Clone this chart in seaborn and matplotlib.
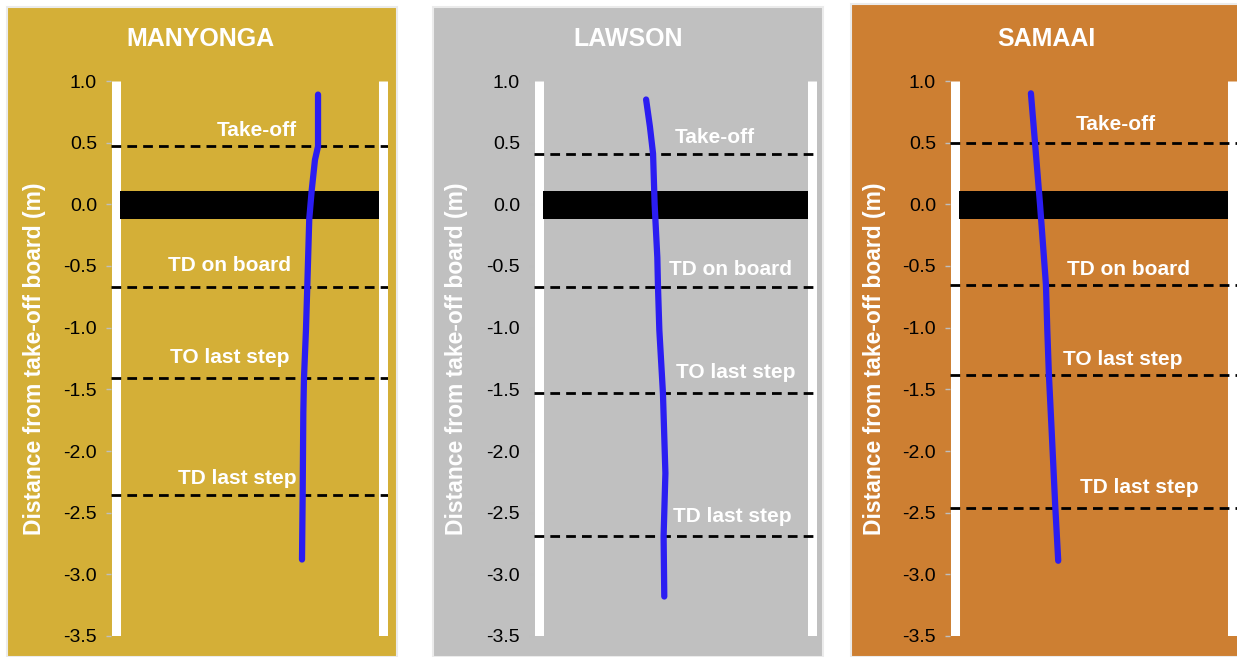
"""
Approach to the take-off board: lateral foot path of the three medallists
"""
import pandas as pd
import seaborn as sns
import numpy as np
import matplotlib.pyplot as plt
from matplotlib.patches import Rectangle

athletes = ['MANYONGA', 'LAWSON', 'SAMAAI']
panel_colors = ['#D4AF37', '#C0C0C0', '#CD7F32']

event_names = ['Take-off', 'TD on board', 'TO last step', 'TD last step']
manyonga_events = [0.47, -0.67, -1.41, -2.36]
lawson_events = [0.41, -0.67, -1.53, -2.69]
samaai_events = [0.50, -0.65, -1.38, -2.46]

# path: distance from board (m) vs lateral position (m)
manyonga_dist = [0.89, 0.47, 0.36, 0.11, -0.12, -0.67, -1.02, -1.41, -1.69, -2.36, -2.88]
manyonga_lat = [0.312, 0.312, 0.298, 0.283, 0.272, 0.263, 0.257, 0.248, 0.245, 0.242, 0.239]
lawson_dist = [0.85, 0.63, 0.41, 0.0, -0.43, -0.67, -1.02, -1.37, -1.53, -2.18, -2.69, -3.18]
lawson_lat = [-0.131, -0.114, -0.100, -0.093, -0.081, -0.078, -0.072, -0.061, -0.056, -0.045, -0.053, -0.050]
samaai_dist = [0.90, 0.50, 0.0, -0.65, -1.02, -1.38, -1.83, -2.45, -2.89]
samaai_lat = [-0.275, -0.257, -0.235, -0.209, -0.203, -0.196, -0.184, -0.168, -0.155]

runway_edge = 0.61
board_top, board_bottom = 0.11, -0.115

events = [manyonga_events, lawson_events, samaai_events]
paths = [(manyonga_lat, manyonga_dist), (lawson_lat, lawson_dist), (samaai_lat, samaai_dist)]

# layout (pixels) measured on the target
W, H = 1237, 657
panel_px = [(7, 397, 7), (433, 823, 7), (851, 1240, 4)]
axes_px = [(111, 277), (534, 283), (950, 287)]
title_x = [200, 628, 1046]
ylabel_x = [35, 457, 875]
label_x = [[0.034, -0.089, -0.089, -0.057],
           [0.176, 0.243, 0.270, 0.252],
           [0.099, 0.152, 0.130, 0.200]]
label_dy = [[0.13, 0.175, 0.17, 0.14],
            [0.13, 0.14, 0.17, 0.16],
            [0.145, 0.125, 0.12, 0.16]]

sns.set_theme(style='ticks', context='notebook')
plt.rcParams['font.family'] = ['Liberation Sans', 'DejaVu Sans']

fig = plt.figure(figsize=(W / 100, H / 100), dpi=100)

for i, name in enumerate(athletes):
    x0, x1, top = panel_px[i]
    fig.add_artist(Rectangle((x0 / W, 0), (x1 - x0) / W, (H - top) / H,
                             transform=fig.transFigure, facecolor=panel_colors[i],
                             edgecolor='#EBEBEB', lw=1.5, zorder=0))
    fig.text(title_x[i] / W, 1 - 39 / H, name, color='white', fontsize=18,
             fontweight='bold', ha='center', va='center')

    left, width = axes_px[i]
    ax = fig.add_axes([left / W, 1 - 636 / H, width / W, 555 / H])
    ax.set_facecolor('none')
    half = runway_edge + 0.0205
    ax.set_xlim(-half, half)
    ax.set_ylim(-3.5, 1.0)

    # runway edges and board
    for xe in (-runway_edge, runway_edge):
        ax.axvline(xe, color='white', lw=6.5, solid_capstyle='butt', zorder=1)
    inner = runway_edge - 0.0205
    ax.fill_between([-inner, inner], board_bottom, board_top, color='black', lw=0, zorder=2)

    for j, ev in enumerate(events[i]):
        ax.axhline(ev, color='black', lw=2, dashes=(3.5, 2.2), zorder=3)
        ax.text(label_x[i][j], ev + label_dy[i][j], event_names[j], color='white',
                fontsize=15, fontweight='bold', ha='center', va='center', zorder=4)

    df = pd.DataFrame({'lat': paths[i][0], 'dist': paths[i][1]})
    sns.lineplot(data=df, x='lat', y='dist', orient='y', sort=False, estimator=None,
                 color='#2B1DF2', lw=4.5, ax=ax)
    ax.lines[-1].set_solid_capstyle('round')
    ax.lines[-1].set_solid_joinstyle('round')
    ax.lines[-1].set_zorder(5)

    yt = np.arange(-3.5, 1.01, 0.5)
    ax.set_yticks(yt)
    ax.set_yticklabels([f'{v:.1f}' for v in yt], fontsize=14, color='black')
    ax.tick_params(axis='y', length=3.6, width=1, color='#BFBFBF', pad=6.5)
    ax.set_xticks([])
    ax.set_xlabel('')
    ax.set_ylabel('Distance from take-off board (m)', color='white', fontsize=16.5,
                  fontweight='bold', va='center')
    ax.yaxis.set_label_coords((ylabel_x[i] - left) / width, 0.5)
    sns.despine(ax=ax, left=True, bottom=True)

plt.savefig('out.png', dpi=100)
